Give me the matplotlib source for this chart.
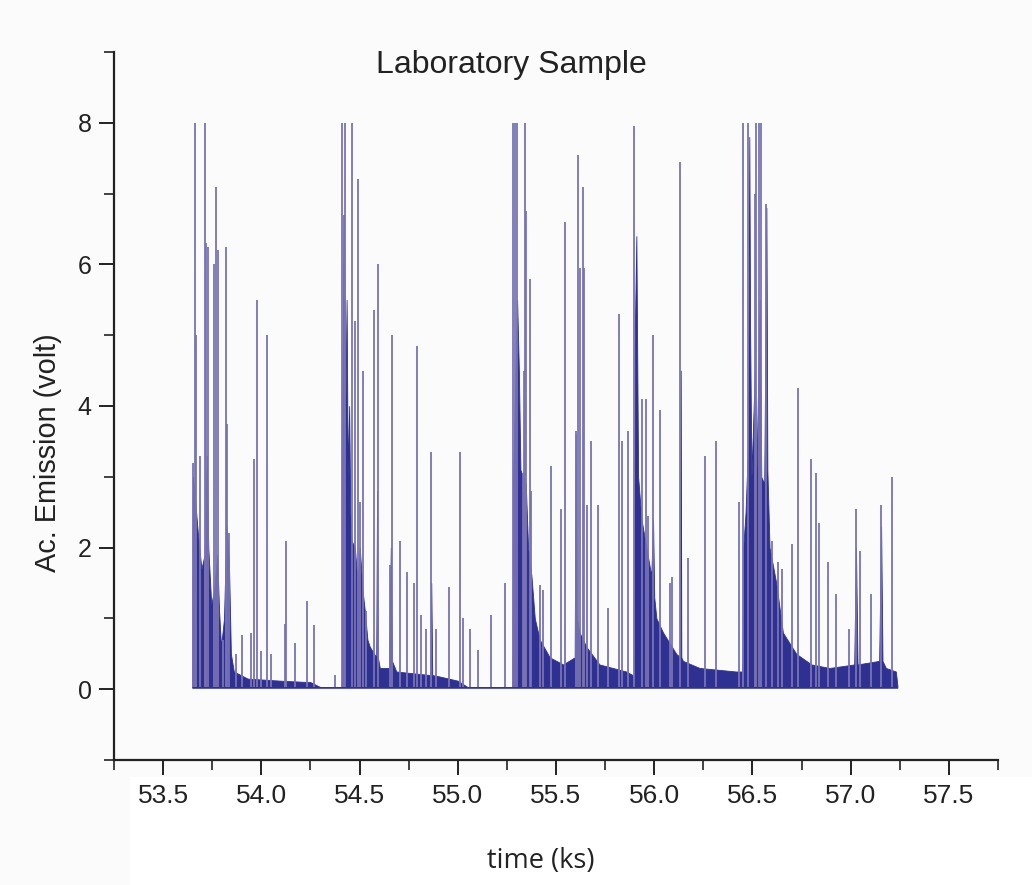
import numpy as np
import matplotlib
matplotlib.use("Agg")
import matplotlib.pyplot as plt
from matplotlib.patches import Rectangle
from matplotlib.ticker import MultipleLocator

# isolated spikes: time (ks), height (volt)
spike_t = [
    53.652, 53.661, 53.669, 53.689, 53.714, 53.719, 53.728, 53.758, 53.770, 53.781,
    53.803, 53.820, 53.824, 53.837, 53.870, 53.904, 53.946, 53.962, 53.980, 53.997,
    54.027, 54.047, 54.122, 54.127, 54.173, 54.232, 54.268, 54.374,
    54.413, 54.420, 54.427, 54.464, 54.476, 54.491, 54.504, 54.515, 54.532, 54.574,
    54.596, 54.654, 54.665, 54.708, 54.741, 54.775, 54.792, 54.812, 54.836, 54.864,
    54.888, 54.954, 55.011, 55.025, 55.063, 55.105, 55.169, 55.240,
    55.280, 55.290, 55.300, 55.342, 55.349, 55.367, 55.337, 55.332, 55.375, 55.417,
    55.434, 55.473, 55.527, 55.547, 55.603, 55.611, 55.620, 55.637, 55.645, 55.657,
    55.679, 55.716, 55.763, 55.823, 55.834, 55.865,
    55.899, 55.938, 55.958, 55.969, 55.994, 56.028, 56.079, 56.092, 56.129, 56.171,
    56.256, 56.315, 56.430,
    56.453, 56.478, 56.512, 56.520, 56.533, 56.545, 56.571, 56.601, 56.630, 56.652,
    56.701, 56.731, 56.799, 56.824, 56.838, 56.887, 56.925, 56.990, 57.027, 57.047,
    57.103, 57.153, 57.209,
]
spike_v = [
    3.2, 8.0, 5.0, 3.3, 8.0, 6.3, 6.25, 6.0, 7.1, 6.2,
    0.7, 6.25, 3.75, 2.2, 0.5, 0.76, 0.8, 3.25, 5.5, 0.54,
    5.0, 0.5, 0.92, 2.1, 0.65, 1.25, 0.9, 0.2,
    8.0, 6.7, 8.0, 8.0, 5.2, 7.2, 2.65, 4.5, 1.1, 5.35,
    6.0, 1.75, 5.0, 2.1, 1.65, 1.5, 4.85, 1.05, 0.85, 3.35,
    0.85, 1.45, 3.35, 1.0, 0.85, 0.55, 1.05, 1.5,
    8.0, 8.0, 8.0, 8.0, 6.75, 5.8, 4.5, 3.05, 2.8, 1.47,
    1.4, 3.15, 2.55, 6.6, 3.65, 7.55, 5.95, 7.1, 5.95, 2.6,
    3.5, 2.6, 1.15, 5.3, 3.5, 3.65,
    7.95, 4.1, 4.1, 2.45, 5.0, 3.95, 1.5, 1.58, 7.45, 1.85,
    3.3, 3.5, 2.65,
    8.0, 8.0, 7.0, 8.0, 8.0, 8.0, 6.85, 2.1, 1.8, 1.7,
    2.05, 4.25, 3.25, 3.05, 2.35, 1.8, 1.35, 0.85, 2.55, 1.95,
    1.35, 2.6, 3.0,
]

# upper edge of the dense dark band
env_t = [
    53.648, 53.650, 53.652, 53.665, 53.677, 53.695, 53.711, 53.722, 53.730, 53.745,
    53.760, 53.775, 53.785, 53.795, 53.810, 53.822, 53.835, 53.845, 53.860, 53.930,
    54.100, 54.250, 54.300, 54.408,
    54.410, 54.413, 54.420, 54.428, 54.434, 54.440, 54.447, 54.453, 54.459, 54.476,
    54.490, 54.501, 54.515, 54.527, 54.540, 54.552, 54.585, 54.589, 54.593, 54.603,
    54.650, 54.659, 54.665, 54.687, 54.860, 54.865, 54.870, 54.907, 55.000, 55.050,
    55.275,
    55.278, 55.282, 55.290, 55.302, 55.311, 55.319, 55.332, 55.346, 55.358, 55.375,
    55.392, 55.417, 55.468, 55.536, 55.595, 55.600, 55.606, 55.620, 55.654, 55.721,
    55.857, 55.890, 55.896,
    55.898, 55.901, 55.909, 55.914, 55.918, 55.935, 55.960, 55.985, 55.994, 56.000,
    56.011, 56.045, 56.112, 56.132, 56.135, 56.138, 56.146, 56.231, 56.417, 56.447,
    56.450, 56.453, 56.465, 56.478, 56.484, 56.488, 56.495, 56.512, 56.520, 56.537,
    56.545, 56.560, 56.571, 56.576, 56.587, 56.621, 56.655, 56.723, 56.800, 56.892,
    57.018, 57.027, 57.035, 57.145, 57.155, 57.162, 57.179, 57.230, 57.238,
]
env_v = [
    0.05, 2.2, 3.0, 2.6, 2.2, 1.7, 1.9, 3.3, 2.0, 1.2,
    1.4, 1.9, 1.1, 0.6, 1.0, 2.3, 1.8, 0.5, 0.25, 0.15,
    0.12, 0.1, 0.03, 0.03,
    0.1, 4.5, 6.7, 4.0, 5.5, 3.0, 4.0, 2.5, 2.1, 2.0,
    1.5, 2.0, 1.4, 1.1, 0.7, 0.6, 0.45, 2.8, 0.45, 0.3,
    0.3, 2.0, 0.4, 0.25, 0.2, 1.5, 0.2, 0.18, 0.12, 0.03,
    0.03,
    0.1, 3.0, 4.0, 5.5, 4.5, 3.1, 3.0, 2.9, 2.0, 1.6,
    1.0, 0.7, 0.45, 0.35, 0.45, 3.6, 1.0, 0.8, 0.6, 0.35,
    0.25, 0.2, 0.1,
    0.1, 5.0, 6.4, 4.5, 3.0, 2.4, 2.0, 1.6, 2.4, 1.3,
    1.0, 0.8, 0.5, 0.45, 4.5, 0.45, 0.4, 0.3, 0.25, 0.25,
    0.4, 2.0, 2.5, 3.5, 7.8, 5.1, 3.0, 4.5, 3.0, 5.5,
    3.0, 2.9, 6.8, 3.1, 2.0, 1.5, 0.8, 0.5, 0.35, 0.3,
    0.35, 2.0, 0.35, 0.4, 2.3, 0.4, 0.3, 0.25, 0.05,
]

x_ticks = [53.5, 54.0, 54.5, 55.0, 55.5, 56.0, 56.5, 57.0, 57.5]
y_ticks = [0, 2, 4, 6, 8]

dark = "#2e3192"
spike_col = "#7873b3"
txt = "#222222"
arial = ["Liberation Sans", "DejaVu Sans"]

fig = plt.figure(figsize=(10.32, 8.85), dpi=100, facecolor="#fbfbfb")
fig.patches.append(Rectangle((130 / 1032, 0), 1, 108 / 885, transform=fig.transFigure,
                             facecolor="white", edgecolor="none", zorder=-10))
ax = fig.add_axes([114 / 1032, 125 / 885, 884 / 1032, 708 / 885])
ax.set_facecolor("none")

ax.vlines(spike_t, 0.03, spike_v, color=spike_col, lw=1.3)
ax.fill_between(env_t, 0.02, env_v, color=dark, lw=0.6, edgecolor=dark)

ax.set_xlim(53.25, 57.75)
ax.set_ylim(-1, 9)
for s in ["top", "right"]:
    ax.spines[s].set_visible(False)
for s in ["left", "bottom"]:
    ax.spines[s].set_linewidth(1.6)
    ax.spines[s].set_color("#222222")

ax.set_xticks(x_ticks)
ax.set_xticklabels([f"{v:.1f}" for v in x_ticks])
ax.xaxis.set_minor_locator(MultipleLocator(0.25))
ax.set_yticks(y_ticks)
ax.yaxis.set_minor_locator(MultipleLocator(1))
ax.tick_params(which="major", length=11, width=1.4, color="#222222")
ax.tick_params(which="minor", length=7, width=1.2, color="#222222")
ax.tick_params(axis="y", labelsize=18, labelcolor=txt, pad=5)
ax.tick_params(axis="x", labelsize=19, labelcolor=txt, pad=6)
for lab in ax.get_xticklabels() + ax.get_yticklabels():
    lab.set_family(arial)

ax.set_ylabel("Ac. Emission (volt)", fontsize=20.8, color=txt, family=arial)
ax.yaxis.set_label_coords(-0.059, 0.434)
ax.set_xlabel("time (ks)", fontsize=19.5, color=txt, family=["Open Sans", "DejaVu Sans"])
ax.xaxis.set_label_coords(0.483, -0.123)

ax.text(0.449, 0.982, "Laboratory Sample", transform=ax.transAxes, ha="center",
        va="center", fontsize=23, color=txt, family=arial)

fig.savefig("out.png", dpi=100, facecolor=fig.get_facecolor())
